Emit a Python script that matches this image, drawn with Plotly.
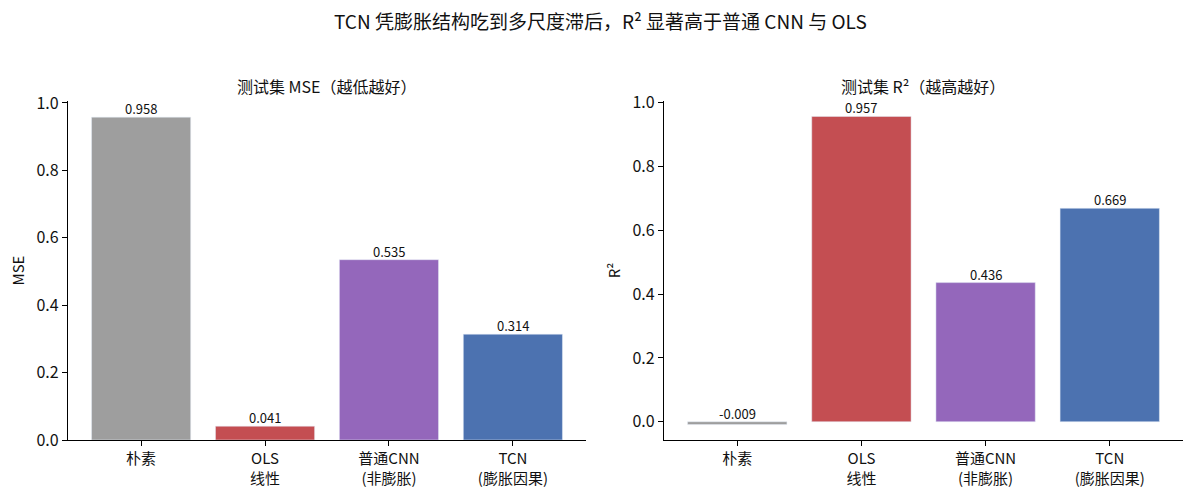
import plotly.graph_objects as go

categories = ["朴素", "OLS<br>线性", "普通CNN<br>(非膨胀)", "TCN<br>(膨胀因果)"]
mse_values = [0.958, 0.041, 0.535, 0.314]
r2_values = [-0.009, 0.957, 0.436, 0.669]
bar_colors = ["#9e9e9e", "#c44e52", "#9467bb", "#4c72b0"]
y_ticks = [0.0, 0.2, 0.4, 0.6, 0.8, 1.0]

FONT = "Noto Sans CJK SC"
W, H = 1195, 497
L, R, T, B = 68, 1183, 101, 440
PW, PH = R - L, B - T
xd1 = [0, (586 - L) / PW]
xd2 = [(664 - L) / PW, 1]

def py(p):
    return (B - p) / PH

fig = go.Figure()
idx = list(range(len(categories)))
fig.add_trace(go.Bar(x=idx, y=mse_values, marker_color=bar_colors, width=0.8,
                     xaxis="x", yaxis="y", showlegend=False))
fig.add_trace(go.Bar(x=idx, y=r2_values, marker_color=bar_colors, width=0.8,
                     xaxis="x2", yaxis="y2", showlegend=False))

annotations = []
for i, v in enumerate(mse_values):
    annotations.append(dict(x=i, y=max(v, 0), xref="x", yref="y", text=f"{v:.3f}",
                            showarrow=False, yanchor="bottom", yshift=-3,
                            font=dict(size=13, color="#111", family=FONT)))
for i, v in enumerate(r2_values):
    annotations.append(dict(x=i, y=max(v, 0), xref="x2", yref="y2", text=f"{v:.3f}",
                            showarrow=False, yanchor="bottom", yshift=-3,
                            font=dict(size=13, color="#111", family=FONT)))
annotations += [
    dict(x=(600 - L) / PW, y=py(20), xref="paper", yref="paper", showarrow=False,
         yanchor="middle", xanchor="center",
         text="TCN 凭膨胀结构吃到多尺度滞后，R² 显著高于普通 CNN 与 OLS",
         font=dict(size=19, color="#111", family=FONT)),
    dict(x=(xd1[0] + xd1[1]) / 2, y=py(86), xref="paper", yref="paper", showarrow=False,
         yanchor="middle", xanchor="center",
         text="测试集 MSE（越低越好）", font=dict(size=16, color="#111", family=FONT)),
    dict(x=(xd2[0] + xd2[1]) / 2, y=py(86), xref="paper", yref="paper", showarrow=False,
         yanchor="middle", xanchor="center",
         text="测试集 R²（越高越好）", font=dict(size=16, color="#111", family=FONT)),
]

axis_common = dict(showline=True, linecolor="black", linewidth=1.2, ticks="outside",
                   ticklen=5, tickcolor="black", showgrid=False, zeroline=False,
                   automargin=False)
yfont = dict(size=16, color="#111", family=FONT)
xfont = dict(size=15, color="#111", family=FONT)

fig.update_layout(
    width=W, height=H, margin=dict(l=L, r=W - R, t=T, b=H - B, autoexpand=False),
    plot_bgcolor="white", paper_bgcolor="white",
    font=dict(family=FONT, color="#111"),
    xaxis=dict(domain=xd1, anchor="y", range=[-0.59, 3.59], tickvals=idx, ticktext=categories,
               tickfont=xfont, **axis_common),
    yaxis=dict(domain=[0, 1], anchor="x", range=[0, 1.0059], tickvals=y_ticks, tickfont=yfont,
               tickformat=".1f", title=dict(text="MSE", font=dict(size=15, family=FONT, color="#111"), standoff=8), **axis_common),
    xaxis2=dict(domain=xd2, anchor="y2", range=[-0.59, 3.59], tickvals=idx, ticktext=categories,
                tickfont=xfont, **axis_common),
    yaxis2=dict(domain=[0, 1], anchor="x2", range=[-0.0573, 1.0053], tickvals=y_ticks, tickfont=yfont,
                tickformat=".1f", title=dict(text="R²", font=dict(size=15, family=FONT, color="#111"), standoff=8), **axis_common),
    annotations=annotations,
)

fig.write_html("out.html")
